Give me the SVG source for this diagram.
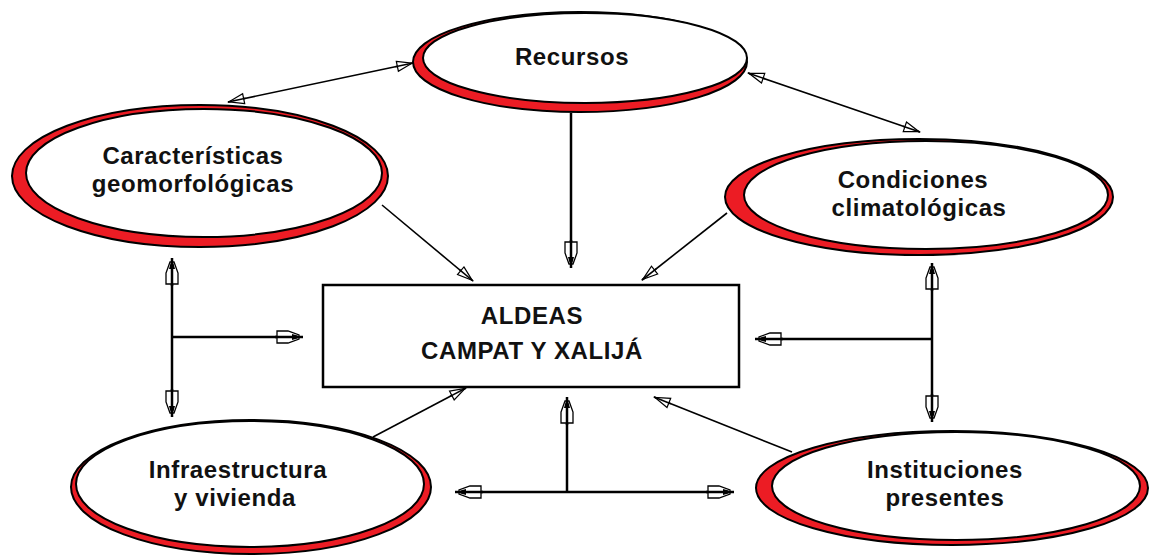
<svg xmlns="http://www.w3.org/2000/svg" width="1151" height="556" viewBox="0 0 1151 556">
<style>
.outer{fill:#ec1c24;stroke:#000;stroke-width:2}
.inner{fill:#fff;stroke:#000;stroke-width:2}
.lbl{font-family:"Liberation Sans",Arial,sans-serif;font-weight:bold;font-size:24px;letter-spacing:0.6px;fill:#111;text-anchor:middle}
.thick{stroke:#000;stroke-width:2.5;fill:none}
.thin{stroke:#000;stroke-width:1.6;fill:none}
.thick-a{marker-end:url(#ah)}
.thick-b{marker-start:url(#ah);marker-end:url(#ah)}
.thin-a{marker-end:url(#at)}
.thin-b{marker-start:url(#at);marker-end:url(#at)}
</style>
<defs>
<marker id="ah" viewBox="-30 -9 32 18" refX="0" refY="0" markerWidth="32" markerHeight="18" markerUnits="userSpaceOnUse" orient="auto-start-reverse">
<path d="M-26,-6 L-15,-6 L-4,-2 L-4,2 L-15,6 L-26,6 Z" fill="#fff" stroke="#000" stroke-width="1.3"/>
<path d="M-28,0 L-6,0" stroke="#000" stroke-width="2.5"/>
<path d="M-11,-3 L0,0 L-11,3 Z" fill="#000"/>
</marker>
<marker id="at" viewBox="-20 -7 22 14" refX="0" refY="0" markerWidth="22" markerHeight="14" markerUnits="userSpaceOnUse" orient="auto-start-reverse">
<path d="M-16,-5 L-1,0 L-16,5 Z" fill="#fff" stroke="#000" stroke-width="1.2"/>
<path d="M-18,0 L0,0" stroke="#000" stroke-width="1.6"/>
</marker>
</defs>

<g id="connectors">
<line class="thin thin-b" x1="228" y1="102" x2="413" y2="63"/>
<line class="thin thin-b" x1="748" y1="73" x2="920" y2="132"/>
<line class="thick thick-a" x1="571" y1="113" x2="571" y2="268"/>
<line class="thin thin-a" x1="382" y1="205" x2="473" y2="281"/>
<line class="thin thin-a" x1="727" y1="213" x2="642" y2="280"/>
<line class="thick thick-b" x1="172" y1="258" x2="172" y2="417"/>
<line class="thick thick-a" x1="172" y1="337" x2="303" y2="337"/>
<line class="thick thick-b" x1="932" y1="263" x2="932" y2="422"/>
<line class="thick thick-a" x1="932" y1="339" x2="755" y2="339"/>
<line class="thick thick-b" x1="455" y1="492" x2="734" y2="492"/>
<line class="thick thick-a" x1="567" y1="492" x2="567" y2="397"/>
<line class="thin thin-a" x1="373" y1="437" x2="466" y2="388"/>
<line class="thin thin-a" x1="792" y1="452" x2="654" y2="397"/>
</g>

<g id="recursos">
<ellipse class="outer" cx="580" cy="62" rx="167" ry="50"/>
<ellipse class="inner" cx="585" cy="58" rx="162" ry="45"/>
<text class="lbl" x="572" y="65">Recursos</text>
</g>

<g id="caracteristicas">
<ellipse class="outer" cx="200" cy="176" rx="188" ry="71"/>
<ellipse class="inner" cx="204" cy="173" rx="178" ry="64"/>
<text class="lbl" x="193" y="164">Características</text>
<text class="lbl" x="193" y="192">geomorfológicas</text>
</g>

<g id="condiciones">
<ellipse class="outer" cx="919" cy="197" rx="194" ry="58"/>
<ellipse class="inner" cx="926" cy="195" rx="182" ry="54"/>
<text class="lbl" x="913" y="188">Condiciones</text>
<text class="lbl" x="919" y="216">climatológicas</text>
</g>

<g id="aldeas">
<rect x="323" y="285" width="416" height="102" fill="#fff" stroke="#000" stroke-width="2.5"/>
<text class="lbl" x="532" y="324">ALDEAS</text>
<text class="lbl" x="532" y="359">CAMPAT Y XALIJÁ</text>
</g>

<g id="infraestructura">
<ellipse class="outer" cx="251" cy="487" rx="180" ry="67"/>
<ellipse class="inner" cx="250" cy="484" rx="174" ry="63"/>
<text class="lbl" x="238" y="478">Infraestructura</text>
<text class="lbl" x="235" y="506">y vivienda</text>
</g>

<g id="instituciones">
<ellipse class="outer" cx="952" cy="488" rx="196" ry="57"/>
<ellipse class="inner" cx="956" cy="486" rx="184" ry="54"/>
<text class="lbl" x="945" y="478">Instituciones</text>
<text class="lbl" x="945" y="506">presentes</text>
</g>
</svg>
